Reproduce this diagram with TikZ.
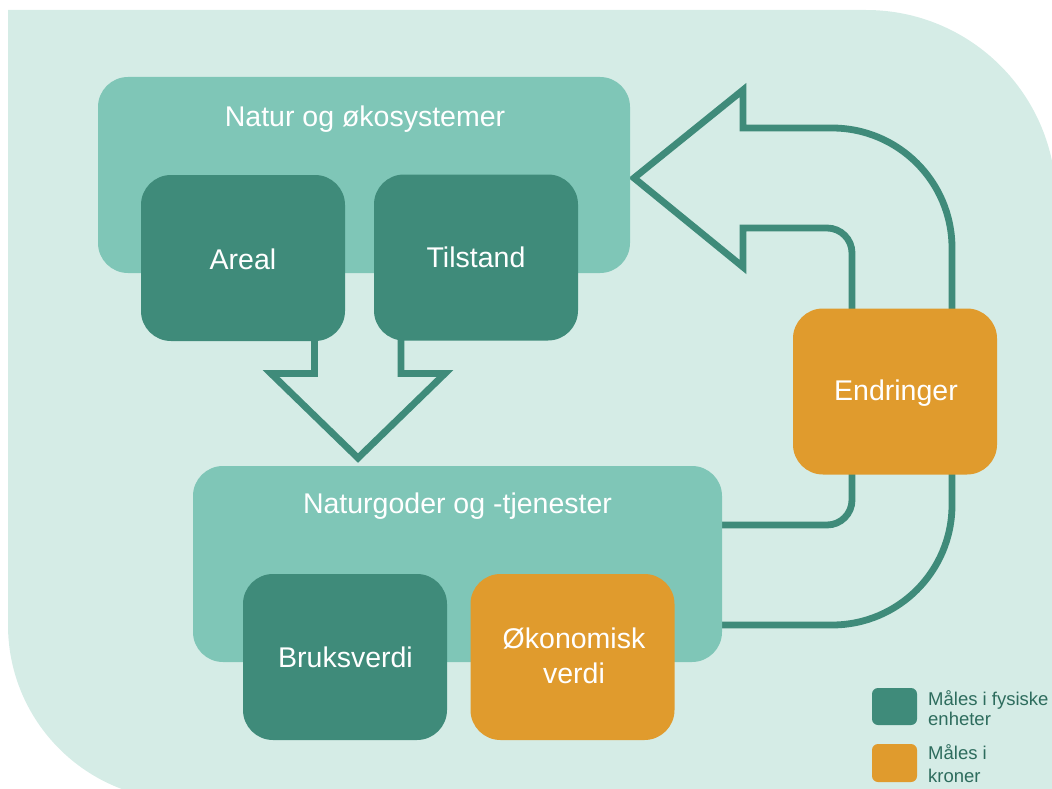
\documentclass[tikz,border=0pt]{standalone}
\usepackage{fontspec}
\setmainfont{Liberation Sans}
\definecolor{bgc}{RGB}{213,236,230}
\definecolor{lightc}{RGB}{127,198,183}
\definecolor{darkc}{RGB}{63,139,122}
\definecolor{orangec}{RGB}{224,155,45}
\definecolor{legc}{RGB}{45,108,93}
\begin{document}
\begin{tikzpicture}[x=1pt,y=-1pt,
  panel/.style={rounded corners=30pt, inner sep=0pt, outer sep=0pt, draw=none},
  lightbox/.style={panel, fill=lightc},
  darkbox/.style={panel, fill=darkc, minimum width=204pt, minimum height=166pt},
  orangebox/.style={panel, fill=orangec, minimum width=204pt, minimum height=166pt},
  boxtext/.style={text=white, inner sep=0pt, anchor=base, font=\fontsize{28.5}{34}\selectfont},
  legtext/.style={text=legc, inner sep=0pt, anchor=base west, font=\fontsize{18.5}{21}\selectfont},
  legbox/.style={rounded corners=6pt, inner sep=0pt, minimum width=45pt, minimum height=37pt},
  blockarrow/.style={draw=darkc, line width=6.8pt, line join=miter, miter limit=10}
]
\useasboundingbox (0,0) rectangle (1052,789);
\clip (0,0) rectangle (1052,789);
% background
\fill[bgc] (8,10) -- (500,10) [rounded corners=190pt] -- (1056,10) -- (1056,420) [sharp corners] -- (1056,800) -- (500,800) [rounded corners=175pt] -- (8,800) -- (8,420) [sharp corners] -- cycle;

% down block arrow
\draw[blockarrow] (314.5,335) -- (314.5,373.5) -- (271,373.5) -- (358,458) -- (445,373.5) -- (401,373.5) -- (401,335);

% curved block arrow
\draw[blockarrow] (712,625) -- (832,625) arc[start angle=90, end angle=0, radius=120]
  -- (952,248) arc[start angle=0, end angle=-90, radius=120]
  -- (743,128) -- (743,90) -- (634,178) -- (743,267) -- (743,228)
  -- (827,228) arc[start angle=-90, end angle=0, radius=25]
  -- (852,500) arc[start angle=0, end angle=90, radius=25]
  -- (712,525);

% boxes
\node[lightbox, minimum width=532pt, minimum height=196pt] (natur) at (364,175) {};
\node[darkbox] (areal) at (243,258) {};
\node[darkbox] (tilstand) at (476,257.5) {};
\node[lightbox, minimum width=529pt, minimum height=196pt] (goder) at (457.5,564) {};
\node[darkbox] (bruks) at (345,657) {};
\node[orangebox] (oko) at (572.5,657) {};
\node[orangebox] (endr) at (895,391.5) {};

% texts
\node[boxtext] (naturT) at (365,127) {Natur og økosystemer};
\node[boxtext] (arealT) at (243,269) {Areal};
\node[boxtext] (tilstandT) at (476,267) {Tilstand};
\node[boxtext] (goderT) at (457.5,513) {Naturgoder og -tjenester};
\node[boxtext] (bruksT) at (345.5,667) {Bruksverdi};
\node[boxtext] (okoT1) at (574,648) {Økonomisk};
\node[boxtext] (okoT2) at (574,683) {verdi};
\node[boxtext] (endrT) at (896,400) {Endringer};

% legend
\node[legbox, fill=darkc] (legdark) at (894.5,706.5) {};
\node[legbox, fill=orangec, minimum height=38pt] (legorange) at (894.5,763) {};
\node[legtext] (legdarkT1) at (928,705) {Måles i fysiske};
\node[legtext] (legdarkT2) at (928,725) {enheter};
\node[legtext] (legorangeT1) at (928,759) {Måles i};
\node[legtext] (legorangeT2) at (928,782) {kroner};
\end{tikzpicture}
\end{document}
